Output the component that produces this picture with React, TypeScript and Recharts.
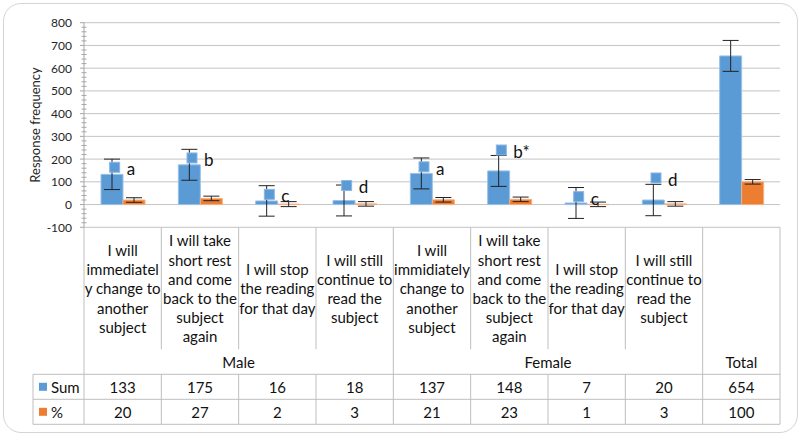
import React from "react";
import {
  ComposedChart,
  Bar,
  Scatter,
  ErrorBar,
  XAxis,
  YAxis,
  CartesianGrid,
} from "recharts";

// --- data ---
const categoryLines = [
  ["I will", "immediatel", "y change to", "another", "subject"],
  ["I will take", "short rest", "and come", "back to the", "subject", "again"],
  ["I will stop", "the reading", "for that day"],
  ["I will still", "continue to", "read the", "subject"],
  ["I will", "immidiately", "change to", "another", "subject"],
  ["I will take", "short rest", "and come", "back to the", "subject", "again"],
  ["I will stop", "the reading", "for that day"],
  ["I will still", "continue to", "read the", "subject"],
  [],
];
const groups = ["Male", "Male", "Male", "Male", "Female", "Female", "Female", "Female", "Total"];
const sumValues = [133, 175, 16, 18, 137, 148, 7, 20, 654];
const pctValues = [20, 27, 2, 3, 21, 23, 1, 3, 100];
const sumErrors = [67, 68, 67, 68, 68, 68, 68, 69, 68];
const pctErrors = [10, 10, 11, 10, 10, 10, 10, 10, 10];
const markerValues = [164, 205, 45, 84, 166, 240, 35, 117, null];
const markerLetters = ["a", "b", "c", "d", "a", "b*", "c", "d", ""];

const yTicks = [-100, 0, 100, 200, 300, 400, 500, 600, 700, 800];
const yMinorTicks = [
  -100, -80, -60, -40, -20, 0, 20, 40, 60, 80, 100, 120, 140, 160, 180, 200, 220, 240,
  260, 280, 300, 320, 340, 360, 380, 400, 420, 440, 460, 480, 500, 520, 540, 560, 580,
  600, 620, 640, 660, 680, 700, 720, 740, 760, 780, 800,
];

const data = sumValues.map((sum, i) => ({
  name: groups[i] + " " + i,
  sum,
  pct: pctValues[i],
  sumErr: sumErrors[i],
  pctErr: pctErrors[i],
  marker: markerValues[i],
  letter: markerLetters[i],
}));

// --- layout ---
const W = 801;
const H = 436;
const PLOT_LEFT = 84;
const PLOT_RIGHT = 780;
const PLOT_TOP = 22.7;
const PLOT_BOTTOM = 227.3;
const X_AXIS_H = 200;
const COL_W = (PLOT_RIGHT - PLOT_LEFT) / data.length;
const Y_TICK_GAP = 12; // tick length + margin before the label

const BLUE = "#5B9BD5";
const ORANGE = "#ED7D31";
const GRID = "#C4C4C4";
const TABLE_LINE = "#BFBFBF";
const AXIS = "#A6A6A6";
const TEXT = "#111";
const FONT = 15;
const LINE_H = 19.2;

// table rows, measured from the plot bottom
const LABEL_BOTTOM = 122;
const ROW1_TOP = 147;
const ROW2_TOP = 172;
const TABLE_BOTTOM = 197;
const LEGEND_LEFT = 33;

const TableTick = (props: any) => {
  const { x, y, payload } = props;
  const i: number = props.index ?? payload.index;
  const left = x - COL_W / 2;
  const right = x + COL_W / 2;
  const groupStart = i === 0 || groups[i] !== groups[i - 1];
  const lines = categoryLines[i];
  const labelMid = y + LABEL_BOTTOM / 2;

  let groupLabel = null;
  if (groupStart) {
    let last = i;
    while (last + 1 < groups.length && groups[last + 1] === groups[i]) last++;
    const cx = x + ((i + last) / 2 - i) * COL_W;
    groupLabel = (
      <text x={cx} y={y + (LABEL_BOTTOM + ROW1_TOP) / 2} textAnchor="middle" dominantBaseline="central" fontSize={FONT} fill={TEXT}>
        {groups[i]}
      </text>
    );
  }

  return (
    <g>
      {groupStart ? (
        <line x1={left} x2={left} y1={y} y2={y + TABLE_BOTTOM} stroke={TABLE_LINE} />
      ) : (
        <>
          <line x1={left} x2={left} y1={y} y2={y + LABEL_BOTTOM} stroke={TABLE_LINE} />
          <line x1={left} x2={left} y1={y + ROW1_TOP} y2={y + TABLE_BOTTOM} stroke={TABLE_LINE} />
        </>
      )}
      {i === data.length - 1 && (
        <line x1={right} x2={right} y1={y} y2={y + TABLE_BOTTOM} stroke={TABLE_LINE} />
      )}
      {i === 0 && (
        <g>
          {[ROW1_TOP, ROW2_TOP, TABLE_BOTTOM].map((ry) => (
            <line key={ry} x1={LEGEND_LEFT} x2={left + data.length * COL_W} y1={y + ry} y2={y + ry} stroke={TABLE_LINE} />
          ))}
          <line x1={LEGEND_LEFT} x2={LEGEND_LEFT} y1={y + ROW1_TOP} y2={y + TABLE_BOTTOM} stroke={TABLE_LINE} />
          <rect x={LEGEND_LEFT + 6} y={y + (ROW1_TOP + ROW2_TOP) / 2 - 4} width={8} height={8} fill={BLUE} />
          <text x={LEGEND_LEFT + 18} y={y + (ROW1_TOP + ROW2_TOP) / 2} dominantBaseline="central" fontSize={FONT} fill={TEXT}>
            Sum
          </text>
          <rect x={LEGEND_LEFT + 6} y={y + (ROW2_TOP + TABLE_BOTTOM) / 2 - 4} width={8} height={8} fill={ORANGE} />
          <text x={LEGEND_LEFT + 18} y={y + (ROW2_TOP + TABLE_BOTTOM) / 2} dominantBaseline="central" fontSize={FONT} fill={TEXT}>
            %
          </text>
        </g>
      )}
      {lines.map((t, k) => (
        <text
          key={k}
          x={x}
          y={labelMid + (k - (lines.length - 1) / 2) * LINE_H}
          textAnchor="middle"
          dominantBaseline="central"
          fontSize={FONT}
          fill={TEXT}
        >
          {t}
        </text>
      ))}
      {groupLabel}
      <text x={x} y={y + (ROW1_TOP + ROW2_TOP) / 2} textAnchor="middle" dominantBaseline="central" fontSize={FONT} fill={TEXT}>
        {sumValues[i]}
      </text>
      <text x={x} y={y + (ROW2_TOP + TABLE_BOTTOM) / 2} textAnchor="middle" dominantBaseline="central" fontSize={FONT} fill={TEXT}>
        {pctValues[i]}
      </text>
    </g>
  );
};

// value-axis tick: major ticks get a label and an outside mark, minor ones a short crossing mark
const YTick = (props: any) => {
  const { x, y, payload } = props;
  const axisX = x + Y_TICK_GAP;
  const major = yTicks.includes(payload.value);
  if (!major) {
    return <line x1={axisX - 2.5} x2={axisX + 2.5} y1={y} y2={y} stroke={AXIS} />;
  }
  return (
    <g>
      <line x1={axisX - 4} x2={axisX} y1={y} y2={y} stroke={AXIS} />
      <text x={x} y={y} textAnchor="end" dominantBaseline="central" fontSize={12} fill="#262626">
        {payload.value}
      </text>
    </g>
  );
};

// blue square marker sitting over the Sum bar, with its letter
const MarkerShape = (props: any) => {
  const { cx, cy, payload } = props;
  if (payload == null || payload.marker == null || cy == null || isNaN(cy)) return <g />;
  const mx = cx - 8;
  return (
    <g>
      <rect x={mx - 5} y={cy - 5} width={10} height={10} fill={BLUE} stroke="#8DB7E3" strokeWidth={1} />
      <text x={mx + 12} y={cy + 8} fontSize={17} fill={TEXT}>
        {payload.letter}
      </text>
    </g>
  );
};

export default function App() {
  return (
    <div style={{ position: "absolute", left: 0, top: 0, width: W, height: H, fontFamily: "Lato, Carlito, sans-serif" }}>
      <div
        style={{
          position: "absolute",
          left: 3,
          top: 3,
          width: 795,
          height: 430,
          boxSizing: "border-box",
          border: "1.5px solid #D4D4D4",
          borderRadius: 18,
          pointerEvents: "none",
        }}
      />
      <ComposedChart
        width={W}
        height={H}
        data={data}
        margin={{ top: PLOT_TOP, right: W - PLOT_RIGHT, left: 0, bottom: H - PLOT_BOTTOM - X_AXIS_H }}
        barGap={0}
      >
        <CartesianGrid vertical={false} stroke={GRID} horizontalValues={yTicks} />
        <XAxis
          dataKey="name"
          interval={0}
          height={X_AXIS_H}
          axisLine={false}
          tickLine={false}
          tickSize={0}
          tickMargin={0}
          tick={<TableTick />}
        />
        <YAxis
          type="number"
          domain={[-100, 800]}
          ticks={yMinorTicks}
          interval={0}
          width={PLOT_LEFT}
          tickSize={4}
          tickMargin={8}
          axisLine={{ stroke: AXIS }}
          tickLine={false}
          tick={<YTick />}
          label={{
            value: "Response frequency",
            angle: -90,
            position: "insideLeft",
            offset: 35,
            style: { textAnchor: "middle", fontSize: 13, fill: "#262626" },
          }}
        />
        <Bar dataKey="sum" fill={BLUE} stroke="#9CC2E8" strokeWidth={1} barSize={22} isAnimationActive={false}>
          <ErrorBar dataKey="sumErr" width={8} stroke="#222" strokeWidth={1} isAnimationActive={false} />
        </Bar>
        <Bar dataKey="pct" fill={ORANGE} stroke="#F4B183" strokeWidth={1} barSize={22} isAnimationActive={false}>
          <ErrorBar dataKey="pctErr" width={8} stroke="#222" strokeWidth={1} isAnimationActive={false} />
        </Bar>
        <Scatter dataKey="marker" shape={(p: any) => <MarkerShape {...p} />} isAnimationActive={false} />
      </ComposedChart>
    </div>
  );
}
